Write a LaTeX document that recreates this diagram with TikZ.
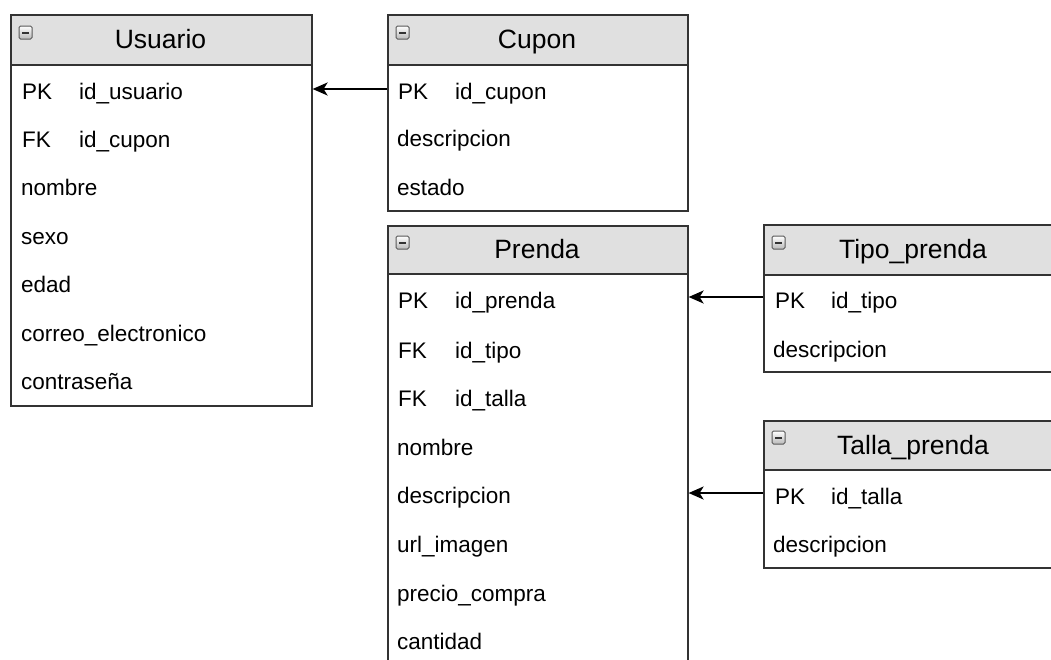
\documentclass[tikz,border=0pt]{standalone}
\usepackage{fontspec}
\setmainfont{Liberation Sans}
\usetikzlibrary{arrows.meta,calc}
\definecolor{border}{HTML}{333333}
\definecolor{hdrfill}{HTML}{E0E0E0}
\begin{document}
\begin{tikzpicture}[x=1pt,y=-1pt,
  tbl/.style={draw=border, line width=1.6pt, fill=white, anchor=north west, inner sep=0pt},
  hdr/.style={draw=border, line width=1.6pt, fill=hdrfill, anchor=north west, inner sep=0pt, minimum height=50pt},
  ttl/.style={anchor=base, inner sep=0pt, font=\fontsize{26.5}{30}\selectfont},
  fld/.style={anchor=base west, inner sep=0pt, font=\fontsize{22.5}{26}\selectfont},
  icon/.style={draw=black!65, line width=1pt, top color=white, bottom color=gray!55, minimum size=13pt, inner sep=0pt, rounded corners=1.5pt,
    path picture={\draw[line width=2pt, black!80] ([xshift=3pt]path picture bounding box.center -| path picture bounding box.west) -- ([xshift=-3pt]path picture bounding box.center -| path picture bounding box.east);}},
  fk/.style={draw=black, line width=1.8pt, -{Stealth[length=15pt, width=13pt, inset=4pt]}}]
\useasboundingbox (0,0) rectangle (1051,659);
\clip (0,0) rectangle (1051,659);
\fill[white] (0,0) rectangle (1051,659);

% Usuario
\node[tbl, minimum width=301pt, minimum height=391pt] (usuario) at (10,14) {};
\node[hdr, minimum width=301pt] (usuarioH) at (10,14) {};
\node[icon] (usuarioI) at (25.5,32.5) {};
\node[ttl] (usuarioT) at (160.5,48.5) {Usuario};
\node[fld] (u1k) at (22,99) {PK};
\node[fld] (u1) at (79,99) {id\_usuario};
\node[fld] (u2k) at (22,147) {FK};
\node[fld] (u2) at (79,147) {id\_cupon};
\node[fld] (u3) at (21,195) {nombre};
\node[fld] (u4) at (21,244) {sexo};
\node[fld] (u5) at (21,292) {edad};
\node[fld] (u6) at (21,341) {correo\_electronico};
\node[fld] (u7) at (21,389) {contraseña};

% Cupon
\node[tbl, minimum width=300pt, minimum height=196pt] (cupon) at (387,14) {};
\node[hdr, minimum width=300pt] (cuponH) at (387,14) {};
\node[icon] (cuponI) at (402.5,32.5) {};
\node[ttl] (cuponT) at (537,48.5) {Cupon};
\node[fld] (c1k) at (398,99) {PK};
\node[fld] (c1) at (455,99) {id\_cupon};
\node[fld] (c2) at (397,146) {descripcion};
\node[fld] (c3) at (397,195) {estado};
\coordinate (cuponR1) at (537,89);

% Prenda
\node[tbl, minimum width=300pt, minimum height=460pt] (prenda) at (387,225) {};
\node[hdr, minimum width=300pt, minimum height=48pt] (prendaH) at (387,225) {};
\node[icon] (prendaI) at (402.5,242.5) {};
\node[ttl] (prendaT) at (537,258.5) {Prenda};
\node[fld] (p1k) at (398,308) {PK};
\node[fld] (p1) at (455,308) {id\_prenda};
\node[fld] (p2k) at (398,358) {FK};
\node[fld] (p2) at (455,358) {id\_tipo};
\node[fld] (p3k) at (398,406) {FK};
\node[fld] (p3) at (455,406) {id\_talla};
\node[fld] (p4) at (397,455) {nombre};
\node[fld] (p5) at (397,503) {descripcion};
\node[fld] (p6) at (397,552) {url\_imagen};
\node[fld] (p7) at (397,601) {precio\_compra};
\node[fld] (p8) at (397,649) {cantidad};

% Tipo_prenda
\node[tbl, minimum width=300pt, minimum height=147pt] (tipo) at (763,224) {};
\node[hdr, minimum width=300pt] (tipoH) at (763,224) {};
\node[icon] (tipoI) at (778.5,242.5) {};
\node[ttl] (tipoT) at (913,258.5) {Tipo\_prenda};
\node[fld] (t1k) at (775,308) {PK};
\node[fld] (t1) at (831,308) {id\_tipo};
\node[fld] (t2) at (773,357) {descripcion};
\coordinate (tipoR1) at (913,297);

% Talla_prenda
\node[tbl, minimum width=300pt, minimum height=147pt] (talla) at (763,420) {};
\node[hdr, minimum width=300pt, minimum height=49pt] (tallaH) at (763,420) {};
\node[icon] (tallaI) at (778.5,437.5) {};
\node[ttl] (tallaT) at (913,454.5) {Talla\_prenda};
\node[fld] (l1k) at (775,504) {PK};
\node[fld] (l1) at (831,504) {id\_talla};
\node[fld] (l2) at (773,552) {descripcion};
\coordinate (tallaR1) at (913,493);

% relations
\draw[fk] (cupon.west |- cuponR1) -- (usuario.east |- cuponR1);
\draw[fk] (tipo.west |- tipoR1) -- (prenda.east |- tipoR1);
\draw[fk] (talla.west |- tallaR1) -- (prenda.east |- tallaR1);
\end{tikzpicture}
\end{document}
